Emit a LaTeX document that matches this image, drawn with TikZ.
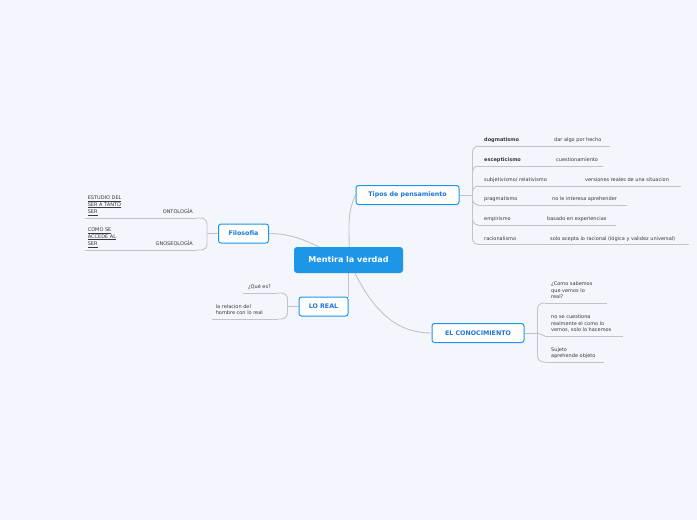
\documentclass[tikz,border=0pt]{standalone}
\usepackage{fontspec}
\setmainfont{DejaVu Sans}
\usetikzlibrary{backgrounds}
\definecolor{bgblue}{RGB}{243,246,253}
\definecolor{mainblue}{RGB}{30,150,232}
\definecolor{topicblue}{RGB}{28,118,214}
\definecolor{linegray}{RGB}{192,195,202}
\definecolor{leafgray}{RGB}{55,55,60}

\begin{document}
\begin{tikzpicture}[x=1pt, y=1pt,
  central/.style={fill=mainblue, text=white, rounded corners=3pt, font=\fontsize{8}{9}\selectfont\bfseries, minimum width=109pt, minimum height=26pt, inner sep=0pt},
  topic/.style={draw=mainblue, fill=white, line width=1pt, rounded corners=2.5pt, text=topicblue, font=\fontsize{6.3}{7}\selectfont\bfseries, minimum height=19pt, inner sep=0pt},
  leaf/.style={anchor=south west, align=left, inner xsep=6pt, inner ysep=4pt, text depth=0pt, text=leafgray, font=\fontsize{5}{6.5}\selectfont},
  conn/.style={draw=linegray, line width=0.9pt, rounded corners=6pt},
  uline/.style={draw=linegray, line width=0.6pt}]
\useasboundingbox (0,0) rectangle (697,-520);
% main topics
\node[central] (main) at (348.5,-260) {Mentira la verdad};
\node[topic, minimum width=103pt] (tipos) at (407.5,-195) {Tipos de pensamiento};
\node[topic, minimum width=50pt] (fil) at (243.5,-233.5) {Filosofia};
\node[topic, minimum width=49pt] (loreal) at (323.5,-306.5) {LO REAL};
\node[topic, minimum width=92pt] (conoc) at (478,-333) {EL CONOCIMIENTO};
% Tipos de pensamiento
\node[leaf] (t1) at (478,-146) {\makebox[70pt][l]{\textbf{dogmatismo}}dar algo por hecho};
\node[leaf] (t2) at (478,-166) {\makebox[72pt][l]{\textbf{escepticismo}}cuestionamiento};
\node[leaf] (t3) at (478,-186) {\makebox[101pt][l]{subjetivismo/ relativismo}versiones reales de una situacion};
\node[leaf] (t4) at (478,-205) {\makebox[68pt][l]{pragmatismo}no le interesa aprehender};
\node[leaf] (t5) at (478,-225) {\makebox[63pt][l]{empirismo}basado en experiencias};
\node[leaf] (t6) at (478,-244.5) {\makebox[66pt][l]{racionalismo}solo acepta lo racional (lógica y validez universal)};
% Filosofia
\node[leaf, anchor=south east, inner xsep=3pt] (f1) at (196,-218) {\underline{ESTUDIO DEL}\\\underline{SER A TANTO}\\\makebox[105pt][l]{\underline{SER}\hfill ONTOLOGÍA}};
\node[leaf, anchor=south east, inner xsep=3pt] (f2) at (196,-250) {\underline{COMO SE}\\\underline{ACCEDE AL}\\\makebox[105pt][l]{\underline{SER}\hfill GNOSEOLOGÍA}};
% LO REAL
\node[leaf, anchor=south east, align=right] (q1) at (277,-293) {¿Qué es?};
\node[leaf, anchor=south east, inner xsep=4pt] (q2) at (278,-319) {la relacion del\\\makebox[58pt][l]{hombre con lo real}};
% EL CONOCIMIENTO
\node[leaf] (k1) at (545,-303) {¿Como sabemos\\que vemos lo\\real?};
\node[leaf] (k2) at (545,-336) {no se cuestiona\\realmente el como lo\\vemos, solo lo hacemos};
\node[leaf] (k3) at (545,-362) {Sujeto\\aprehende objeto};
% forks
\coordinate (tf) at ([xshift=13pt]tipos.east);
\coordinate (ff) at ([xshift=-11pt]fil.west);
\coordinate (lf) at ([xshift=-11pt]loreal.west);
\coordinate (kf) at ([xshift=13pt]conoc.east);
\begin{scope}[on background layer]
\fill[bgblue] (0,0) rectangle (697,-520);
\draw[conn] (main.center) to[out=84,in=245] (tipos.west);
\draw[conn] (main.center) to[out=160,in=0] (fil.east);
\draw[conn] (main.center) -- (loreal.north east);
\draw[conn] (main.center) to[out=-65,in=180] (conoc.west);
\draw[conn] (tipos.east) -- (tf);
\draw[conn] (fil.west) -- (ff);
\draw[conn] (loreal.west) -- (lf);
\draw[conn] (conoc.east) -- (kf);
\foreach \n in {t1,t2,t3,t4,t5,t6} \draw[conn] (tf) |- (\n.south west);
\foreach \n in {f1,f2} \draw[conn] (ff) |- (\n.south east);
\foreach \n in {q1,q2} \draw[conn] (lf) |- (\n.south east);
\foreach \n in {k1,k3} \draw[conn] (kf) |- (\n.south west);
\draw[conn] (kf) -- (k2.south west);
\foreach \n/\l in {t1/132,t2/125,t3/203,t4/149,t5/138,t6/211,k1/62,k2/78,k3/59} \draw[uline] (\n.south west) -- ++(\l,0);
\foreach \n/\l in {f1/111,f2/111,q1/34,q2/66} \draw[uline] (\n.south east) -- ++(-\l,0);
\end{scope}
\end{tikzpicture}
\end{document}
